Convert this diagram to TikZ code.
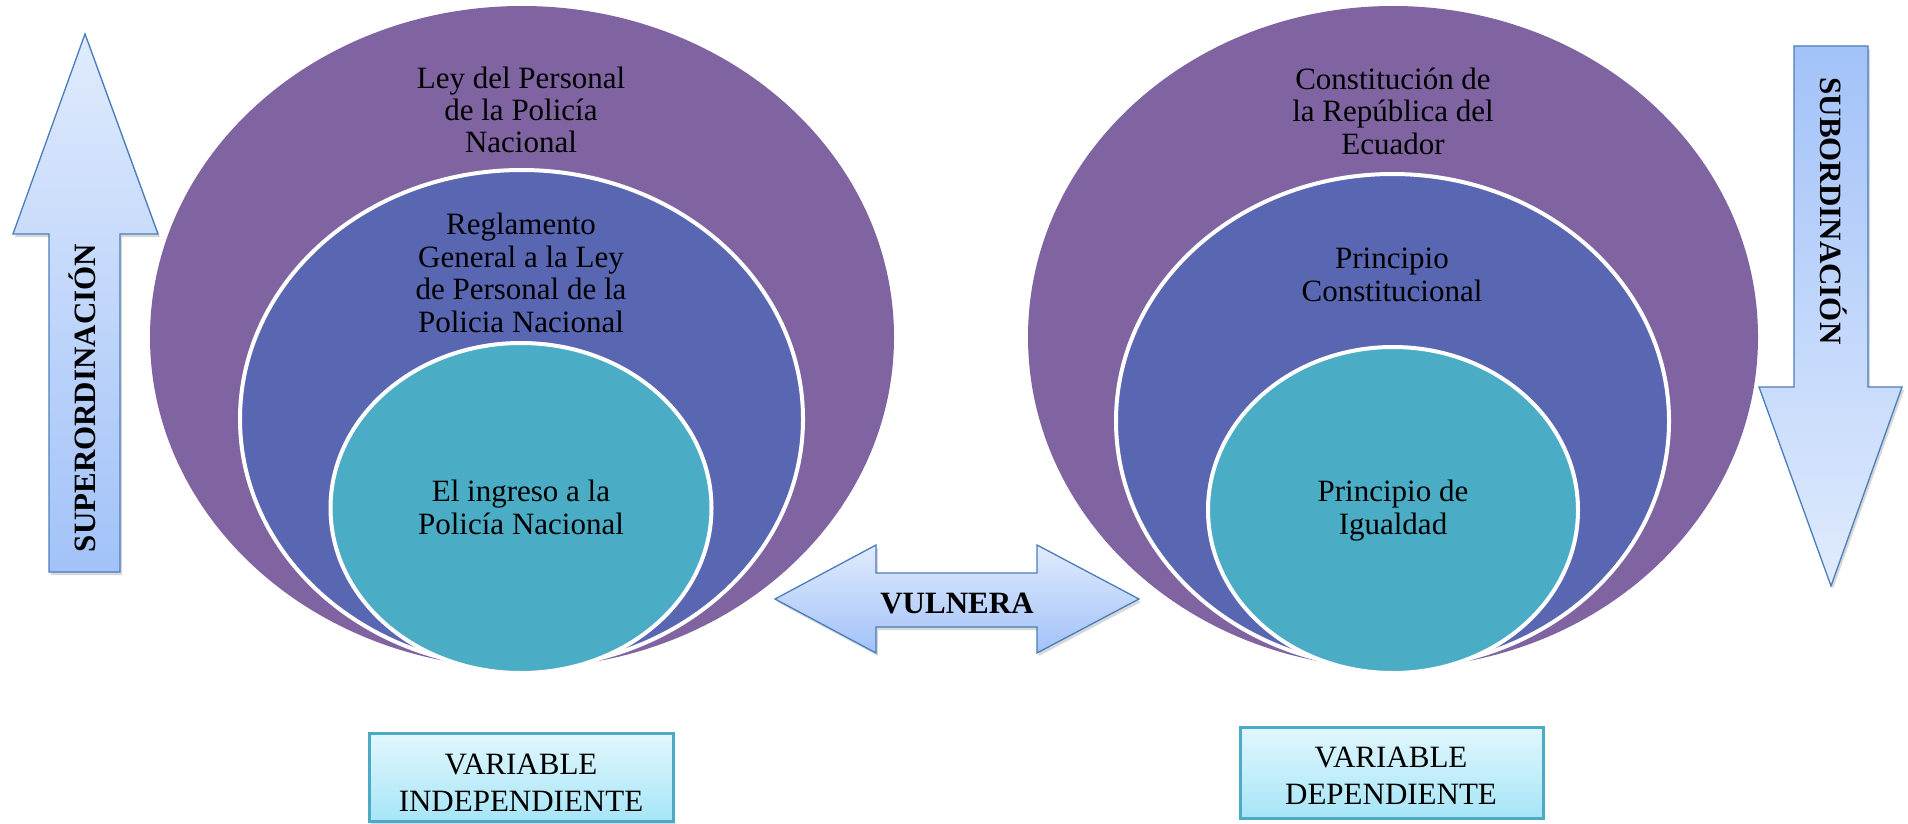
\documentclass[tikz,border=0pt]{standalone}
\usepackage{fontspec}
\setmainfont{Liberation Serif}
\usetikzlibrary{shapes.geometric,shadows}
\definecolor{outerpurple}{RGB}{128,100,162}
\definecolor{midblue}{RGB}{89,102,177}
\definecolor{innerteal}{RGB}{75,172,198}
\definecolor{arrowline}{RGB}{74,126,187}
\definecolor{arrowlight}{RGB}{224,235,253}
\definecolor{arrowdark}{RGB}{162,194,248}
\definecolor{boxline}{RGB}{75,170,198}
\definecolor{boxlight}{RGB}{226,247,253}
\definecolor{boxdark}{RGB}{166,229,247}
\begin{document}
\begin{tikzpicture}[x=1pt,y=-1pt,
  txt/.style={align=center,font=\fontsize{31}{32.4}\selectfont,anchor=base,inner sep=0pt},
  boxtxt/.style={align=center,font=\fontsize{31}{36.5}\selectfont,anchor=base,inner sep=0pt},
  boldtxt/.style={font=\fontsize{31}{36}\selectfont\bfseries,anchor=base,inner sep=0pt},
  ring/.style={ellipse,inner sep=0pt,outer sep=0pt},
  inring/.style={ring,draw=white,line width=4pt},
  arrowshape/.style={draw=arrowline,line width=1.3pt,line join=miter,
    drop shadow={opacity=0.3,shadow xshift=2pt,shadow yshift=-3pt}},
  varbox/.style={rectangle,draw=boxline,line width=3pt,top color=boxlight,bottom color=boxdark,
    inner sep=0pt,drop shadow={opacity=0.3,shadow xshift=2pt,shadow yshift=-2pt}}]
\useasboundingbox (0,0) rectangle (1908,824);
\fill[white] (0,0) rectangle (1908,824);

% left nested ellipses
\node[ring,fill=outerpurple,minimum width=744pt,minimum height=662pt] (lo) at (522,337) {};
\node[inring,fill=midblue,minimum width=563pt,minimum height=498pt] (lm) at (521.5,419) {};
\node[inring,fill=innerteal,minimum width=381pt,minimum height=330pt] (li) at (521,508) {};

% right nested ellipses
\node[ring,fill=outerpurple,minimum width=730pt,minimum height=662pt] (ro) at (1393,337) {};
\node[inring,fill=midblue,minimum width=553pt,minimum height=494pt] (rm) at (1392.5,421) {};
\node[inring,fill=innerteal,minimum width=370pt,minimum height=326pt] (ri) at (1393,510) {};

% texts in ellipses (anchor base = last line baseline)
\node[txt] (t1) at (521,153) {Ley del Personal\\de la Policía\\Nacional};
\node[txt] (t2) at (521,332) {Reglamento\\General a la Ley\\de Personal de la\\Policia Nacional};
\node[txt] (t3) at (521,534) {El ingreso a la\\Policía Nacional};
\node[txt] (t4) at (1393,154) {Constitución de\\la República del\\Ecuador};
\node[txt] (t5) at (1392,301) {Principio\\Constitucional};
\node[txt] (t6) at (1393,534) {Principio de\\Igualdad};

% up arrow (superordinacion)
\path[arrowshape,top color=arrowlight,bottom color=arrowdark]
  (85,34) -- (158,234) -- (120,234) -- (120,572) -- (49,572) -- (49,234) -- (13,234) -- cycle;
\node[boldtxt,rotate=90] (sup) at (95.5,398) {SUPERORDINACIÓN};

% down arrow (subordinacion)
\path[arrowshape,top color=arrowdark,bottom color=arrowlight]
  (1794,46) -- (1868,46) -- (1868,387) -- (1902,387) -- (1831,586) -- (1759,387) -- (1794,387) -- cycle;
\node[boldtxt,rotate=-90] (sub) at (1820.5,211) {SUBORDINACIÓN};

% double arrow (vulnera)
\path[arrowshape,top color=arrowlight,bottom color=arrowdark]
  (775,599) -- (876,545) -- (876,573) -- (1037,573) -- (1037,545) -- (1139,599)
  -- (1037,653) -- (1037,627) -- (876,627) -- (876,653) -- cycle;
\node[boldtxt] (vul) at (957,613) {VULNERA};

% variable boxes
\node[varbox,minimum width=304pt,minimum height=88pt] (vi) at (521,777.5) {};
\node[boxtxt] (vit) at (521,811) {VARIABLE\\INDEPENDIENTE};
\node[varbox,minimum width=303pt,minimum height=91pt] (vd) at (1391.5,772.5) {};
\node[boxtxt] (vdt) at (1391,804) {VARIABLE\\DEPENDIENTE};
\end{tikzpicture}
\end{document}
